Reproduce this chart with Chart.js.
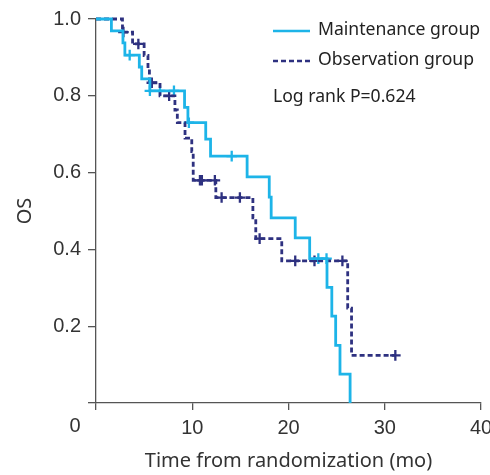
<!DOCTYPE html>
<html><head><meta charset="utf-8">
<script src="https://cdn.jsdelivr.net/npm/chart.js@4"></script>
<style>html,body{margin:0;padding:0;background:#fff;} canvas{display:block}</style>
</head><body>
<canvas id="c" width="490" height="475"></canvas>
<script>
// Kaplan-Meier steps: time (months) and survival after the event at that time
const maintTime = [0, 1.6, 2.8, 3.0, 4.5, 4.75, 5.6, 9.2, 9.55, 11.4, 11.9, 15.7, 18.0, 18.2, 20.7, 22.2, 24.0, 24.5, 24.9, 25.35, 26.4];
const maintSurv = [1.0, 0.969, 0.938, 0.906, 0.875, 0.844, 0.813, 0.770, 0.730, 0.687, 0.643, 0.589, 0.536, 0.482, 0.430, 0.376, 0.301, 0.226, 0.150, 0.075, 0.0];
const maintCensor = [3.5, 5.6, 6.65, 8.1, 9.65, 14.1, 23.1, 23.95];

const obsTime = [0, 2.75, 3.8, 5.0, 5.4, 5.55, 6.65, 8.2, 8.45, 9.25, 9.95, 10.1, 12.45, 16.3, 16.6, 19.3, 26.15, 26.55, 31.1];
const obsSurv = [1.0, 0.966, 0.935, 0.905, 0.870, 0.834, 0.800, 0.763, 0.730, 0.690, 0.655, 0.580, 0.535, 0.482, 0.428, 0.370, 0.247, 0.124, 0.124];
const obsCensor = [2.85, 4.4, 5.8, 7.6, 10.8, 11.0, 12.35, 13.05, 14.95, 17.0, 20.7, 22.7, 25.6, 31.1];

const xTicks = [0, 10, 20, 30, 40];
const yTicks = [0, 0.2, 0.4, 0.6, 0.8, 1.0];
const seriesNames = ['Maintenance group', 'Observation group'];
const statText = 'Log rank P=0.624';
const xTitle = 'Time from randomization (mo)';
const yTitle = 'OS';

const CYAN = '#1db4e8';
const NAVY = '#2e3180';
const AXIS = '#555555';
const TXT = '#333333';
const TICKFONT = '"Liberation Sans", Arial, sans-serif';
const TEXTFONT = '"Noto Sans", sans-serif';

function survAt(times, surv, t) {
  let s = surv[0];
  for (let i = 0; i < times.length; i++) if (times[i] <= t) s = surv[i];
  return s;
}
const toPts = (t, s) => t.map((v, i) => ({x: v, y: s[i]}));
const censorPts = (c, t, s) => c.map(v => ({x: v, y: survAt(t, s, v)}));

const annot = {
  id: 'annot',
  afterDraw(chart) {
    const ctx = chart.ctx, xs = chart.scales.x, ys = chart.scales.y;
    ctx.save();
    // corner "0" label
    ctx.font = '20px ' + TICKFONT;
    ctx.fillStyle = TXT; ctx.textAlign = 'center'; ctx.textBaseline = 'middle';
    ctx.fillText(String(xTicks[0]), xs.left - 21, ys.bottom + 23);
    // legend
    const lx0 = 273, lx1 = 310, tx = 318;
    ctx.lineWidth = 2.6;
    ctx.strokeStyle = CYAN; ctx.setLineDash([]);
    ctx.beginPath(); ctx.moveTo(lx0, 31); ctx.lineTo(lx1, 31); ctx.stroke();
    ctx.strokeStyle = NAVY; ctx.setLineDash([5, 3]);
    ctx.beginPath(); ctx.moveTo(lx0, 61); ctx.lineTo(lx1, 61); ctx.stroke();
    ctx.setLineDash([]);
    ctx.font = '17.6px ' + TEXTFONT; ctx.fillStyle = '#222'; ctx.textAlign = 'left';
    ctx.fillText(seriesNames[0], tx, 30);
    ctx.fillText(seriesNames[1], tx, 60);
    ctx.fillText(statText, lx0, 97);
    ctx.restore();
  }
};

new Chart(document.getElementById('c'), {
  type: 'line',
  data: {
    datasets: [
      {label: seriesNames[0], data: toPts(maintTime, maintSurv), stepped: true, borderColor: CYAN, borderWidth: 2.8, pointRadius: 0, fill: false, clip: 6},
      {label: seriesNames[1], data: toPts(obsTime, obsSurv), stepped: true, borderColor: NAVY, borderWidth: 2.8, borderDash: [5, 3], pointRadius: 0, fill: false, clip: 6},
      {label: 'mc', data: censorPts(maintCensor, maintTime, maintSurv), showLine: false, pointStyle: 'cross', pointRadius: 5.3, pointBorderWidth: 2.3, borderColor: CYAN, backgroundColor: CYAN, clip: 6},
      {label: 'oc', data: censorPts(obsCensor, obsTime, obsSurv), showLine: false, pointStyle: 'cross', pointRadius: 5.3, pointBorderWidth: 2.3, borderColor: NAVY, backgroundColor: NAVY, clip: 6}
    ]
  },
  options: {
    responsive: false,
    animation: false,
    events: [],
    layout: {padding: {top: 19, right: 9, left: 0, bottom: 0}},
    plugins: {legend: {display: false}, tooltip: {enabled: false}},
    scales: {
      x: {
        type: 'linear', min: 0, max: 40,
        afterBuildTicks: s => { s.ticks = xTicks.map(v => ({value: v})); },
        ticks: {callback: v => v === 0 ? '' : String(v), color: TXT, font: {family: TICKFONT, size: 20}, padding: 6, maxRotation: 0, autoSkip: false},
        grid: {drawOnChartArea: false, drawTicks: true, tickLength: 7, color: AXIS, lineWidth: 1.3},
        border: {color: AXIS, width: 1.3},
        title: {display: true, text: xTitle, color: TXT, font: {family: TEXTFONT, size: 20}, padding: {top: 0, bottom: 1.5}},
        afterFit: s => { s.height = 72; s.paddingRight = 0; s.paddingLeft = 0; }
      },
      y: {
        min: 0, max: 1,
        afterBuildTicks: s => { s.ticks = yTicks.map(v => ({value: v})); },
        ticks: {callback: v => v === 0 ? '' : v.toFixed(1), color: TXT, font: {family: TICKFONT, size: 20}, padding: 7},
        grid: {drawOnChartArea: false, drawTicks: true, tickLength: 8, color: AXIS, lineWidth: 1.3},
        border: {color: AXIS, width: 1.3},
        title: {display: true, text: yTitle, color: TXT, font: {family: TEXTFONT, size: 20}, padding: {top: 13, bottom: 0}},
        afterFit: s => { s.width = 96; s.paddingTop = 0; s.paddingBottom = 0; }
      }
    }
  },
  plugins: [annot]
});
</script>
</body></html>
